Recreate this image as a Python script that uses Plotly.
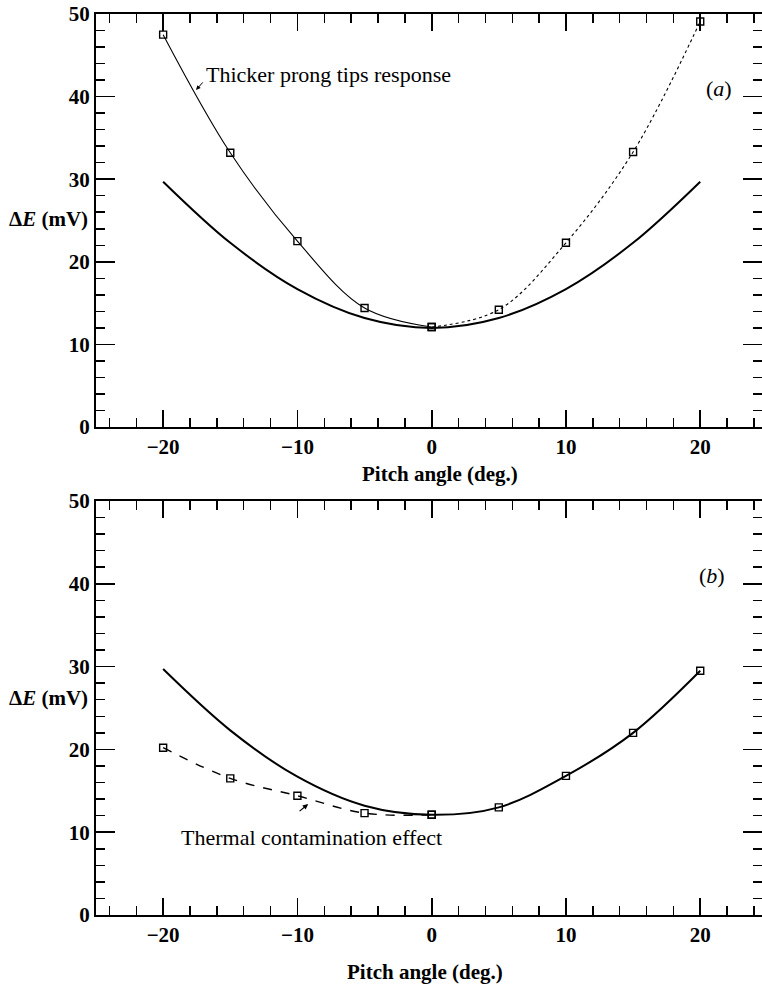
import plotly.graph_objects as go

# ---------------- data ----------------
angles = [-20, -15, -10, -5, 0, 5, 10, 15, 20]
# reference (solid) response curve, both panels
base_curve = [29.7, 22.3, 16.7, 13.2, 12.0, 13.2, 16.7, 22.3, 29.7]

# panel (a): thicker prong tips response
a_left_x = [-20, -15, -10, -5, 0]
a_left_y = [47.5, 33.2, 22.5, 14.4, 12.1]
a_right_x = [0, 5, 10, 15, 20]
a_right_y = [12.1, 14.2, 22.3, 33.3, 49.1]

# panel (b): measured points on right, thermal contamination on left
b_right_x = [0, 5, 10, 15, 20]
b_right_y = [12.1, 13.0, 16.8, 22.0, 29.5]
b_left_x = [-20, -15, -10, -5, 0]
b_left_y = [20.2, 16.5, 14.4, 12.3, 12.1]

x_tickvals = [-20, -10, 0, 10, 20]
x_ticktext = ["\u221220", "\u221210", "0", "10", "20"]
x_minor = [-24, -22, -18, -16, -14, -12, -8, -6, -4, -2, 2, 4, 6, 8, 12, 14, 16, 18, 22, 24]
y_tickvals = [0, 10, 20, 30, 40, 50]
y_minor = [2, 4, 6, 8, 12, 14, 16, 18, 22, 24, 26, 28, 32, 34, 36, 38, 42, 44, 46, 48]

FONT = "Liberation Serif"
W, H = 762, 987

fig = go.Figure()

sq = dict(symbol="square-open", size=7, color="black", line=dict(width=1.4, color="black"))

# ---- panel (a) ----
fig.add_trace(go.Scatter(x=angles, y=base_curve, mode="lines",
                         line=dict(color="black", width=2.0, shape="spline"),
                         xaxis="x", yaxis="y", showlegend=False))
fig.add_trace(go.Scatter(x=a_left_x, y=a_left_y, mode="lines+markers",
                         line=dict(color="black", width=1.1, shape="spline"),
                         marker=sq, xaxis="x", yaxis="y", showlegend=False))
fig.add_trace(go.Scatter(x=a_right_x, y=a_right_y, mode="lines+markers",
                         line=dict(color="black", width=1.1, shape="spline", dash="dot"),
                         marker=sq, xaxis="x", yaxis="y", showlegend=False))

# ---- panel (b) ----
b_curve_y = base_curve[:4] + b_right_y
fig.add_trace(go.Scatter(x=angles, y=b_curve_y, mode="lines",
                         line=dict(color="black", width=2.0, shape="spline"),
                         xaxis="x2", yaxis="y2", showlegend=False))
fig.add_trace(go.Scatter(x=b_right_x, y=b_right_y, mode="markers",
                         marker=sq, xaxis="x2", yaxis="y2", showlegend=False))
fig.add_trace(go.Scatter(x=b_left_x, y=b_left_y, mode="lines+markers",
                         line=dict(color="black", width=1.4, shape="spline", dash="dash"),
                         marker=sq, xaxis="x2", yaxis="y2", showlegend=False))

# dummy traces so the minor-tick overlay axes are drawn
for xa, ya in [("x3", "y"), ("x", "y3"), ("x4", "y2"), ("x2", "y4")]:
    fig.add_trace(go.Scatter(x=[None], y=[None], mode="lines", xaxis=xa, yaxis=ya,
                             showlegend=False, hoverinfo="skip"))

x_left_px = 96
xdom = [x_left_px / W, 1.0]
top_dom = [1 - 427 / H, 1 - 14 / H]
bot_dom = [1 - 915 / H, 1 - 501 / H]
XR = [-25, 24.6]
YR = [0, 50]

tickfont = dict(family=FONT, size=21, color="black", weight="bold")


def xmajor(anchor):
    return dict(domain=xdom, anchor=anchor, range=XR,
                tickmode="array", tickvals=x_tickvals, ticktext=x_ticktext,
                ticks="inside", ticklen=17, tickwidth=1.7, tickcolor="black",
                showline=True, linewidth=2, linecolor="black", mirror="ticks",
                showgrid=False, zeroline=False, tickfont=tickfont, automargin=False,
                fixedrange=True)


def xminor(anchor, over):
    return dict(domain=xdom, anchor=anchor, overlaying=over, range=XR,
                tickmode="array", tickvals=x_minor, showticklabels=False,
                ticks="inside", ticklen=9, tickwidth=1.5, tickcolor="black",
                showline=False, mirror="ticks", side="bottom",
                showgrid=False, zeroline=False, automargin=False, fixedrange=True)


def ymajor(anchor, dom):
    return dict(domain=dom, anchor=anchor, range=YR,
                tickmode="array", tickvals=y_tickvals,
                ticks="inside", ticklen=19, tickwidth=1.7, tickcolor="black",
                showline=True, linewidth=2, linecolor="black", mirror="ticks",
                showgrid=False, zeroline=False, tickfont=tickfont, automargin=False,
                fixedrange=True)


def yminor(anchor, over, dom):
    return dict(domain=dom, anchor=anchor, overlaying=over, range=YR,
                tickmode="array", tickvals=y_minor, showticklabels=False,
                ticks="inside", ticklen=9, tickwidth=1.5, tickcolor="black",
                showline=False, mirror="ticks", side="left",
                showgrid=False, zeroline=False, automargin=False, fixedrange=True)


fig.update_layout(
    width=W, height=H,
    margin=dict(l=0, r=0, t=0, b=0),
    paper_bgcolor="white", plot_bgcolor="white",
    font=dict(family=FONT, color="black", size=21),
    xaxis=xmajor("y"),
    yaxis=ymajor("x", top_dom),
    xaxis2=xmajor("y2"),
    yaxis2=ymajor("x2", bot_dom),
    xaxis3=xminor("y", "x"),
    yaxis3=yminor("x", "y", top_dom),
    xaxis4=xminor("y2", "x2"),
    yaxis4=yminor("x2", "y2", bot_dom),
)

ann_font = dict(family=FONT, size=22, color="black")
title_font = dict(family=FONT, size=21, color="black", weight="bold")
annotations = [
    # y titles
    dict(text="\u0394<i>E</i> (mV)", xref="paper", yref="paper", x=7 / W, y=1 - 219 / H,
         xanchor="left", yanchor="middle", showarrow=False, font=title_font),
    dict(text="\u0394<i>E</i> (mV)", xref="paper", yref="paper", x=7 / W, y=1 - 698 / H,
         xanchor="left", yanchor="middle", showarrow=False, font=title_font),
    # x titles
    dict(text="Pitch angle (deg.)", xref="paper", yref="paper", x=440 / W, y=1 - 474 / H,
         xanchor="center", yanchor="middle", showarrow=False, font=title_font),
    dict(text="Pitch angle (deg.)", xref="paper", yref="paper", x=425 / W, y=1 - 972 / H,
         xanchor="center", yanchor="middle", showarrow=False, font=title_font),
    # panel labels
    dict(text="(<i>a</i>)", xref="x", yref="y", x=21.4, y=41, showarrow=False,
         xanchor="center", yanchor="middle", font=ann_font),
    dict(text="(<i>b</i>)", xref="x2", yref="y2", x=20.9, y=41, showarrow=False,
         xanchor="center", yanchor="middle", font=ann_font),
    # annotation texts
    dict(text="Thicker prong tips response", xref="x", yref="y", x=-16.95, y=42.7,
         xanchor="left", yanchor="middle", showarrow=False, font=ann_font),
    dict(text="", xref="x", yref="y", x=-17.55, y=40.8, ax=-16.95, ay=41.9,
         axref="x", ayref="y", showarrow=True, arrowhead=2, arrowsize=0.9,
         arrowwidth=1, arrowcolor="black"),
    dict(text="Thermal contamination effect", xref="x2", yref="y2", x=-18.8, y=9.4,
         xanchor="left", yanchor="middle", showarrow=False, font=ann_font),
    dict(text="", xref="x2", yref="y2", x=-9.2, y=13.4, ax=-9.95, ay=12.4,
         axref="x2", ayref="y2", showarrow=True, arrowhead=2, arrowsize=0.9,
         arrowwidth=1.2, arrowcolor="black"),
]
fig.update_layout(annotations=annotations)

fig.write_html("out.html",
               config={"displayModeBar": False, "staticPlot": True},
               post_script="document.body.style.margin='0';document.body.style.overflow='hidden';")
